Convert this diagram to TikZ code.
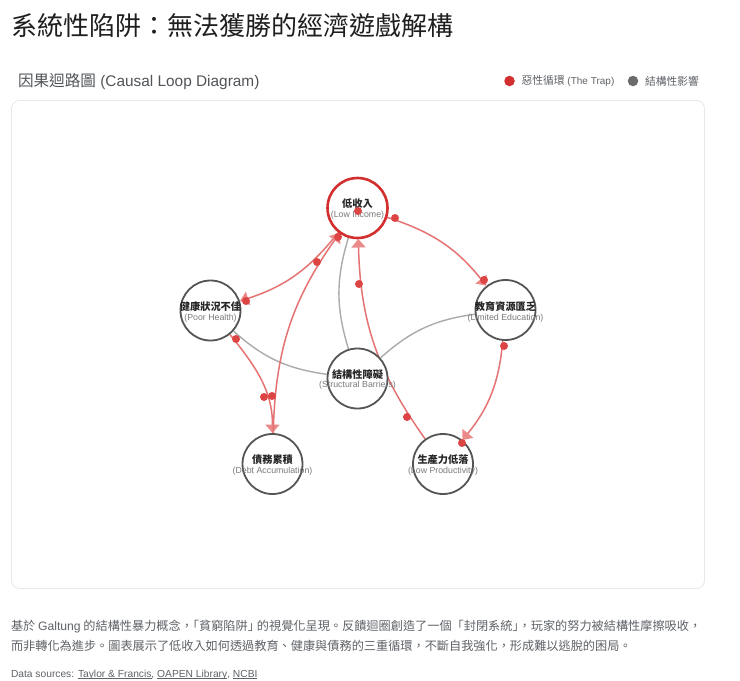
\documentclass[tikz,border=0pt]{standalone}
\usepackage{fontspec}
\setmainfont{Noto Sans CJK TC}
\newfontfamily\lat{Liberation Sans}
\usetikzlibrary{arrows.meta,backgrounds}
\definecolor{redline}{HTML}{E57373}
\definecolor{redtip}{HTML}{EC8A8A}
\definecolor{reddot}{HTML}{DD4444}
\definecolor{trapred}{HTML}{D32F2F}
\definecolor{grayline}{HTML}{ABABAB}
\definecolor{nodeline}{HTML}{555555}
\definecolor{subtext}{HTML}{7A7A7A}
\definecolor{bodytext}{HTML}{5F6368}
\newcommand{\linktext}[1]{\setbox0=\hbox{#1}\rlap{\rule[-1.8pt]{\wd0}{0.7pt}}\box0 }
\tikzset{
  x=1pt,y=-1pt,
  every node/.style={inner sep=0pt,outer sep=0pt},
  factor/.style={circle,draw=nodeline,line width=1.8pt,fill=white,minimum size=60pt,outer sep=1pt},
  trapfactor/.style={factor,draw=trapred,line width=2.6pt},
  zh/.style={font=\bfseries\fontsize{10.2}{12}\selectfont,text=black!85},
  en/.style={font=\lat\fontsize{8.8}{10}\selectfont,text=subtext},
  redbase/.style={draw=redline,line width=1.5pt,-{Triangle[length=8.5pt,width=14pt,color=redtip]}},
  redlink/.style={redbase,bend left=17},
  graylink/.style={draw=grayline,line width=1.4pt,bend left=17},
  pulse/.style={circle,fill=reddot,minimum size=8pt},
  legenddot/.style={circle,minimum size=10.5pt},
  legendtext/.style={anchor=west,font=\fontsize{10.8}{12}\selectfont,text=bodytext},
  bodyline/.style={anchor=base west,font=\fontsize{12.17}{14}\selectfont,text=bodytext}
}
\begin{document}
\begin{tikzpicture}
\useasboundingbox (0,0) rectangle (740,681);

% header
\node[anchor=base west,font=\fontsize{26}{30}\selectfont,text=black!88] (title) at (11.5,35) {系統性陷阱：無法獲勝的經濟遊戲解構};
\node[anchor=base west,font=\fontsize{15.6}{20}\selectfont,text=bodytext!85!black] (sub) at (18,86) {因果迴路圖{\lat\fontsize{15.4}{20}\selectfont{} (Causal Loop Diagram)}};
\node[legenddot,fill=trapred] (lg1) at (509.5,81) {};
\node[legendtext] (lg1t) at (521.5,81) {惡性循環{\lat\fontsize{10}{12}\selectfont{} (The Trap)}};
\node[legenddot,fill=black!58] (lg2) at (633,81) {};
\node[legendtext] (lg2t) at (645,81) {結構性影響};

% factors
\node[trapfactor] (low) at (357.5,208) {};
\node[factor] (poor) at (210.5,310.5) {};
\node[factor] (edu) at (505.5,310) {};
\node[factor] (bar) at (357.5,378.5) {};
\node[factor] (debt) at (272.5,464) {};
\node[factor] (prod) at (443,464) {};

% card and connectors behind the factors
\begin{scope}[on background layer]
  \fill[white] (0,0) rectangle (740,681);
  \draw[draw=black!9,line width=0.8pt,rounded corners=8pt] (11.5,100.5) rectangle (704.5,588.5);
  \draw[graylink] (bar) to (low);
  \draw[graylink] (bar) to (poor);
  \draw[graylink] (bar) to (edu);
  \draw[redlink] (low) to (edu);
  \draw[redlink] (edu) to (prod);
  \draw[redlink] (prod) to (low);
  \draw[redlink] (low) to (poor);
  \draw[redbase] (poor) to[out=-51,in=90] (debt.north);
  \draw[redlink] (debt) to (low);
\end{scope}

% factor labels
\node[zh] (lowa) at (357.5,204) {低收入};
\node[en] (lowb) at (357.5,215.5) {(Low Income)};
\node[zh] (poora) at (210.5,306.5) {健康狀況不佳};
\node[en] (poorb) at (210.5,318) {(Poor Health)};
\node[zh] (edua) at (505.5,306.5) {教育資源匱乏};
\node[en] (edub) at (505.5,318) {(Limited Education)};
\node[zh] (bara) at (357.5,374.5) {結構性障礙};
\node[en] (barb) at (357.5,385.5) {(Structural Barriers)};
\node[zh] (debta) at (272.5,459.5) {債務累積};
\node[en] (debtb) at (272.5,471.5) {(Debt Accumulation)};
\node[zh] (proda) at (443,459.5) {生產力低落};
\node[en] (prodb) at (443,471.5) {(Low Productivity)};

% pulses travelling along the links
\node[pulse] (p1) at (358,211) {};
\node[pulse] (p2) at (338,237) {};
\node[pulse] (p3) at (317,262) {};
\node[pulse] (p4) at (359,284) {};
\node[pulse] (p5) at (246,301) {};
\node[pulse] (p6) at (236,339) {};
\node[pulse] (p7) at (395,218) {};
\node[pulse] (p8) at (484,280) {};
\node[pulse] (p9) at (264,397) {};
\node[pulse] (p10) at (272,396) {};
\node[pulse] (p11) at (407,417) {};
\node[pulse] (p12) at (504,346) {};
\node[pulse] (p13) at (462,443) {};

% caption
\node[bodyline] (c1) at (11,630) {基於 {\lat Galtung} 的結構性暴力概念，\kern-6pt「貧窮陷阱」\kern-3pt的視覺化呈現。反饋迴圈創造了一個「封閉系統」\kern-6pt，玩家的努力被結構性摩擦吸收，};
\node[bodyline] (c2) at (11,650) {而非轉化為進步。圖表展示了低收入如何透過教育、健康與債務的三重循環，不斷自我強化，形成難以逃脫的困局。};
\node[bodyline,font=\lat\fontsize{10.25}{12}\selectfont] (c3) at (11,677) {Data sources: \linktext{Taylor \& Francis}, \linktext{OAPEN Library}, \linktext{NCBI}};
\end{tikzpicture}
\end{document}
